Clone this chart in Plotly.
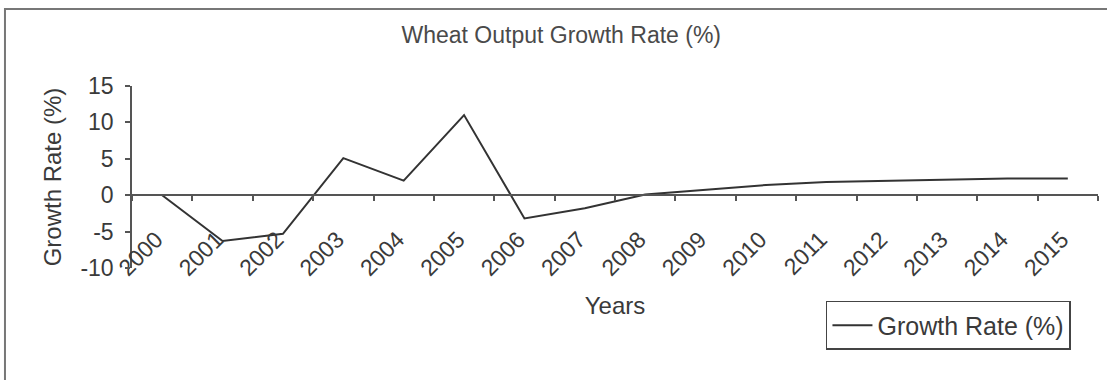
import plotly.graph_objects as go

# Wheat output growth rate by year (%)
years = ["2000", "2001", "2002", "2003", "2004", "2005", "2006", "2007",
         "2008", "2009", "2010", "2011", "2012", "2013", "2014", "2015"]
growth = [0.0, -6.3, -5.3, 5.1, 2.0, 11.0, -3.2, -1.8,
          0.1, 0.7, 1.4, 1.8, 2.0, 2.1, 2.3, 2.3]
y_ticks = [-10, -5, 0, 5, 10, 15]
y_tick_text = ["-10", "-5", "0", "5", "10", "15"]

y_min, y_max = -10, 15
# the category axis crosses the value axis at zero
zero_pos = (0 - y_min) / (y_max - y_min)

FONT = "Liberation Sans, Arial, sans-serif"
TXT = "#3a3a3a"
AX = "#555555"

fig = go.Figure()
fig.add_trace(go.Scatter(
    x=years, y=growth, mode="lines", name="Growth Rate (%)",
    line=dict(color="#333333", width=2),
))

fig.update_layout(
    width=1107, height=380,
    margin=dict(l=132, r=9, t=86, b=112),
    paper_bgcolor="white", plot_bgcolor="white",
    font=dict(family=FONT, color=TXT, size=22),
    title=dict(text="Wheat Output Growth Rate (%)", xref="container",
               x=0.507, y=0.908, xanchor="center", yanchor="middle",
               font=dict(size=23, color="#4a4a4a")),
    xaxis=dict(
        type="category", range=[-0.5, len(years) - 0.5],
        anchor="free", position=zero_pos,
        showline=True, linecolor=AX, linewidth=1.5,
        ticks="outside", tickson="boundaries", ticklen=5,
        tickcolor=AX, tickwidth=1.5,
        tickangle=-45, ticklabelstandoff=21, ticklabelshift=-6,
        tickfont=dict(size=23, color=TXT),
        showgrid=False, zeroline=False,
        title=dict(text="Years", font=dict(size=24, color=TXT), standoff=16),
    ),
    yaxis=dict(
        range=[y_min, y_max], tickvals=y_ticks, ticktext=y_tick_text,
        showline=True, linecolor=AX, linewidth=1.5,
        ticks="outside", ticklen=5, tickcolor=AX, tickwidth=1.5,
        ticklabelstandoff=7,
        tickfont=dict(size=23, color=TXT),
        showgrid=False, zeroline=False,
        title=dict(text="Growth Rate (%)", font=dict(size=24, color=TXT),
                   standoff=12),
    ),
    showlegend=True,
    legend=dict(
        x=0.972, y=-0.181, xanchor="right", yanchor="top",
        bordercolor="#444444", borderwidth=1.5, bgcolor="white",
        font=dict(size=25, color=TXT), itemwidth=40,
    ),
)

# chart-area frame
fig.add_shape(type="rect", xref="paper", yref="paper",
              x0=-0.1315, x1=1.05, y0=-0.8, y1=1.423,
              line=dict(color="#777777", width=2), layer="below")

fig.write_html("out.html")
